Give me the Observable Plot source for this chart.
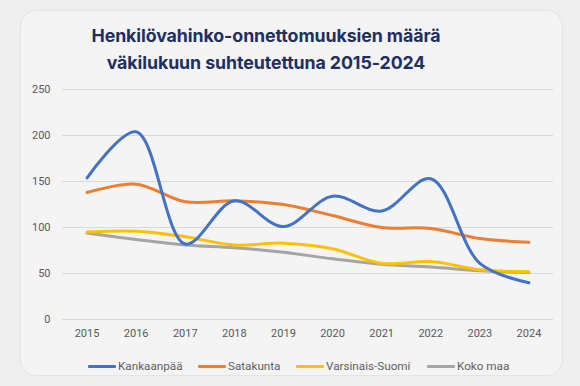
<!DOCTYPE html>
<html>
<head>
<meta charset="utf-8">
<script src="https://cdn.jsdelivr.net/npm/d3@7"></script>
<script src="https://cdn.jsdelivr.net/npm/@observablehq/plot@0.6"></script>
<style>
  html, body { margin: 0; padding: 0; background: #efefef; width: 580px; height: 386px; overflow: hidden; font-family: "Open Sans", sans-serif; }
  #card { position: absolute; left: 20px; top: 10px; width: 543px; height: 366px; border-radius: 16px; background: #f4f4f4; border: 1px solid #e4e4e4; box-sizing: border-box; }
  #title { position: absolute; left: 0; top: 22px; width: 532px; text-align: center; color: #1f2f61; font-family: Inter, "Open Sans", sans-serif; font-weight: 700; font-size: 17.8px; line-height: 27px; letter-spacing: -0.1px; }
  #chart { position: absolute; left: 0; top: 78px; }
  #legend { position: absolute; top: 358px; left: 0; width: 580px; font-size: 11.7px; color: #5f5f5f; font-family: Roboto, "Open Sans", sans-serif; }
  .item { position: absolute; display: flex; align-items: center; white-space: nowrap; height: 16px; }
  .sw { display: inline-block; width: 28px; height: 3px; margin-right: 2px; border-radius: 1px; }
</style>
</head>
<body>
<div id="card"></div>
<div id="title">Henkilövahinko-onnettomuuksien määrä<br>väkilukuun suhteutettuna 2015-2024</div>
<div id="chart"></div>
<div id="legend"></div>
<script>
const years = [2015, 2016, 2017, 2018, 2019, 2020, 2021, 2022, 2023, 2024];
const seriesNames = ["Kankaanpää", "Satakunta", "Varsinais-Suomi", "Koko maa"];
const kankaanpaa = [154, 204, 82, 129, 101, 134, 118, 153, 61, 40];
const satakunta = [138, 147, 128, 129, 125, 113, 100, 99, 88, 84];
const varsinaisSuomi = [95, 96, 90, 81, 83, 77, 61, 63, 54, 52];
const kokoMaa = [94, 87, 81, 78, 73, 66, 60, 57, 53, 51];
const yTicks = [0, 50, 100, 150, 200, 250];
const colors = ["#4472C4", "#ED7D31", "#FFC000", "#A5A5A5"];

const valuesBySeries = [kankaanpaa, satakunta, varsinaisSuomi, kokoMaa];
const data = [];
seriesNames.forEach((s, i) => years.forEach((y, j) => data.push({series: s, year: y, value: valuesBySeries[i][j]})));

const plot = Plot.plot({
  width: 580,
  height: 268,
  marginTop: 11,
  marginBottom: 27,
  marginLeft: 62,
  marginRight: 27,
  style: {background: "transparent", fontFamily: "Roboto, 'Open Sans', sans-serif", fontSize: "11px", color: "#595959"},
  x: {domain: [2014.5, 2024.5], ticks: years, tickFormat: d => String(d), tickSize: 0, tickPadding: 10, label: null},
  y: {domain: [0, 250], ticks: yTicks, tickSize: 0, tickPadding: 12, label: null},
  color: {domain: seriesNames, range: colors},
  marks: [
    Plot.gridY(yTicks, {stroke: "#d9d9d9", strokeOpacity: 1}),
    Plot.axisX({ticks: years, tickFormat: d => String(d), tickSize: 0, tickPadding: 10, fill: "#595959"}),
    Plot.axisY({ticks: yTicks, tickSize: 0, tickPadding: 12, fill: "#595959"}),
    Plot.line(data.slice().reverse(), {x: "year", y: "value", z: "series", stroke: "series", strokeWidth: 3, curve: "catmull-rom", strokeLinecap: "round"})
  ]
});
document.getElementById("chart").appendChild(plot);

const legendX = [88, 198, 296, 427];
const leg = document.getElementById("legend");
seriesNames.forEach((s, i) => {
  const it = document.createElement("div");
  it.className = "item";
  it.style.left = legendX[i] + "px";
  it.innerHTML = `<span class="sw" style="background:${colors[i]}"></span><span>${s}</span>`;
  leg.appendChild(it);
});
</script>
</body>
</html>
